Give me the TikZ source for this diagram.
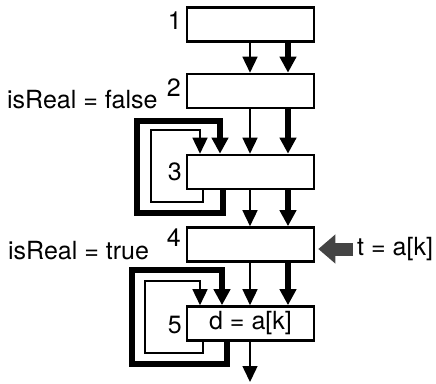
\documentclass[tikz,border=0pt]{standalone}
\usepackage{fontspec}
\setmainfont{TeX Gyre Heros}
\usetikzlibrary{arrows.meta}
\definecolor{arrgray}{HTML}{444444}
\begin{document}
\begin{tikzpicture}[x=1pt,y=-1pt,
  box/.style={draw,line width=2.6pt,minimum width=127pt,minimum height=34pt,inner sep=0pt},
  lbl/.style={inner sep=0pt,font=\fontsize{25}{29}\selectfont},
  thinarr/.style={line width=1.5pt,-{Triangle[length=16pt,width=15pt]}},
  thickarr/.style={line width=5.5pt,-{Triangle[length=16pt,width=16pt]}},
  thinline/.style={line width=1.5pt},
  thickline/.style={line width=5.5pt,line join=miter}]
\useasboundingbox (0,0) rectangle (436,383);
% boxes
\node[box] (b1) at (250.5,24.5) {};
\node[box] (b2) at (250.5,91) {};
\node[box] (b3) at (250.5,172) {};
\node[box] (b4) at (250.5,244.5) {};
\node[box,lbl] (b5) at (250.5,323.5) {d = a[k]};
% number labels
\node[lbl,anchor=east] (n1) at (182,21) {1};
\node[lbl,anchor=east] (n2) at (181,88) {2};
\node[lbl,anchor=east] (n3) at (182,172) {3};
\node[lbl,anchor=east] (n4) at (181,238) {4};
\node[lbl,anchor=east] (n5) at (182,325) {5};
\node[lbl,anchor=west] (f) at (7,100) {isReal = false};
\node[lbl,anchor=west] (tr) at (8,251) {isReal = true};
\node[lbl,anchor=west] (t) at (357,249) {t = a[k]};
% straight arrows
\foreach \a/\b in {b1/b2,b2/b3,b3/b4,b4/b5}{
  \draw[thinarr] ([xshift=-0.5pt]\a.south) -- ([xshift=-0.5pt]\b.north);
  \draw[thickarr] ([xshift=37.5pt]\a.south) -- ([xshift=37.5pt]\b.north);
}
\coordinate (out) at (250,382);
\draw[thinarr] ([xshift=-0.5pt]b5.south) -- (out);
% loop on box 3
\coordinate (l3a) at (151,202);
\coordinate (l3b) at (151,130);
\draw[thinarr]
  ([xshift=-47.5pt]b3.south) |- (l3a) -- (l3b) -| ([xshift=-50.5pt]b3.north);
\coordinate (l3c) at (137,213);
\coordinate (l3d) at (137,121);
\draw[thickarr,line join=miter]
  ([xshift=-27.5pt]b3.south) |- (l3c) -- (l3d) -| ([xshift=-30.5pt]b3.north);
% loop on box 5
\coordinate (l5a) at (145,353);
\coordinate (l5b) at (145,281);
\draw[thinarr]
  ([xshift=-47.5pt]b5.south) |- (l5a) -- (l5b) -| ([xshift=-50.5pt]b5.north);
\coordinate (l5c) at (132,364);
\coordinate (l5d) at (132,270);
\draw[thickarr,line join=miter]
  ([xshift=-23.5pt]b5.south) |- (l5c) -- (l5d) -| ([xshift=-28.5pt]b5.north);
% gray arrow
\draw[arrgray,line width=13pt,-{Triangle[length=17pt,width=28pt]}]
  ([xshift=-4pt]t.west) -- ([xshift=3pt,yshift=-4.5pt]b4.east);
\end{tikzpicture}
\end{document}
